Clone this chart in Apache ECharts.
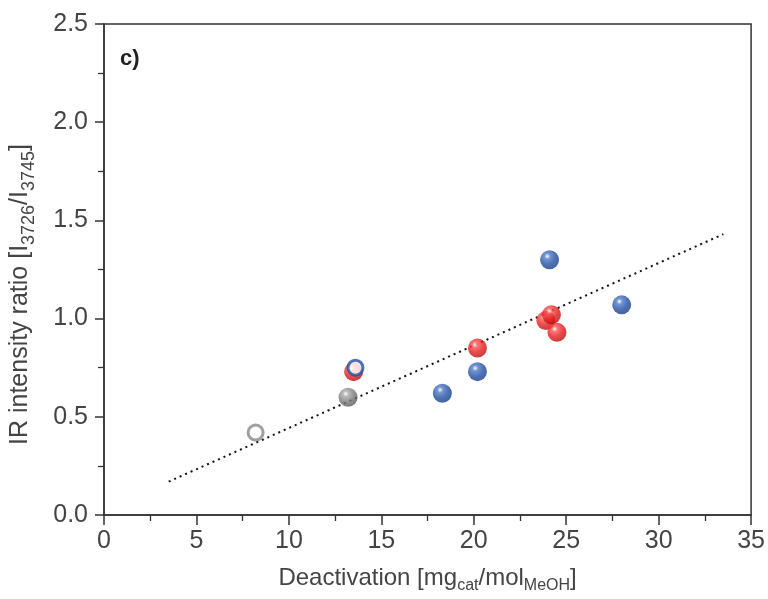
<!DOCTYPE html>
<html><head><meta charset="utf-8">
<script src="https://cdn.jsdelivr.net/npm/echarts@6/dist/echarts.min.js"></script>
<style>html,body{margin:0;padding:0;background:#fff}#c{width:768px;height:599px}</style>
</head><body><div id="c"></div>
<script>
// Data
const greyOpen = [[8.2, 0.42]];
const greySolid = [[13.2, 0.60]];
const redSolid = [[13.5, 0.73], [20.2, 0.85], [23.9, 0.99], [24.2, 1.02], [24.5, 0.93]];
const blueOpen = [[13.6, 0.75]];
const blueSolid = [[18.3, 0.62], [20.2, 0.73], [24.1, 1.30], [28.0, 1.07]];
const trendLine = [[3.5, 0.17], [33.5, 1.43]];
const xTicks = [0, 5, 10, 15, 20, 25, 30, 35];
const yTicks = [0.0, 0.5, 1.0, 1.5, 2.0, 2.5];

function ball(c0, c1, c2) {
  return {type:'radial', x:0.38, y:0.32, r:0.75, colorStops:[
    {offset:0, color:'#ffffff'}, {offset:0.2, color:c0}, {offset:0.55, color:c1}, {offset:1, color:c2}]};
}
const FONT = '"Liberation Sans", Arial, sans-serif';
const chart = echarts.init(document.getElementById('c'));
chart.setOption({
  animation:false,
  backgroundColor:'#fff',
  grid:{left:104, right:16, top:24, bottom:83, show:true, borderColor:'#333', borderWidth:1.5, backgroundColor:'transparent'},
  xAxis:{type:'value', min:xTicks[0], max:xTicks[xTicks.length-1], interval:5,
    axisLine:{show:true, onZero:false, lineStyle:{color:'#333', width:1.5}},
    axisTick:{show:true, inside:false, length:10, lineStyle:{color:'#333', width:1.5}},
    minorTick:{show:true, splitNumber:2, length:6, lineStyle:{color:'#333', width:1.3}},
    splitLine:{show:false},
    axisLabel:{color:'#444', fontSize:25, fontFamily:FONT, margin:14},
    name:'Deactivation [mg{s|cat}/mol{s|MeOH}]', nameLocation:'middle', nameGap:47,
    nameTextStyle:{color:'#444', fontSize:24, fontFamily:FONT,
      rich:{s:{fontSize:16, fontFamily:FONT, color:'#444', padding:[16,0,0,0]}}}
  },
  yAxis:{type:'value', min:yTicks[0], max:yTicks[yTicks.length-1], interval:0.5,
    axisLine:{show:true, onZero:false, lineStyle:{color:'#333', width:1.5}},
    axisTick:{show:true, inside:false, length:9, lineStyle:{color:'#333', width:1.5}},
    minorTick:{show:true, splitNumber:2, length:6, lineStyle:{color:'#333', width:1.3}},
    splitLine:{show:false},
    axisLabel:{color:'#444', fontSize:25, fontFamily:FONT, margin:16, formatter:v=>v.toFixed(1)},
    name:'IR intensity ratio [I{s|3726}/I{s|3745}]', nameLocation:'middle', nameGap:66,
    nameTextStyle:{color:'#444', fontSize:25, fontFamily:FONT, padding:[0,50,0,0],
      rich:{s:{fontSize:18, fontFamily:FONT, color:'#444', padding:[17,0,0,0]}}}
  },
  graphic:[{type:'text', left:120, top:48, style:{text:'c)', font:'bold 22px '+FONT, fill:'#222'}}],
  series:[
    {type:'line', data:trendLine, symbol:'none', lineStyle:{color:'#111', width:2, type:[2,4]}, z:1},
    {type:'scatter', data:greyOpen, symbolSize:15, itemStyle:{color:'#fff', borderColor:'#888', borderWidth:3}, z:3},
    {type:'scatter', data:greySolid, symbolSize:19, itemStyle:{color:ball('#a8a8a8','#7c7c7c','#555555')}, z:3},
    {type:'scatter', data:redSolid, symbolSize:19, itemStyle:{color:ball('#ff5050','#e41e1e','#b00c0c')}, z:3},
    {type:'scatter', data:blueSolid, symbolSize:19, itemStyle:{color:ball('#4f7cc8','#2450a4','#143a80')}, z:3},
    {type:'scatter', data:blueOpen, symbolSize:15, itemStyle:{color:'#fff', borderColor:'#1f4fa5', borderWidth:3}, z:4}
  ]
});
</script></body></html>
